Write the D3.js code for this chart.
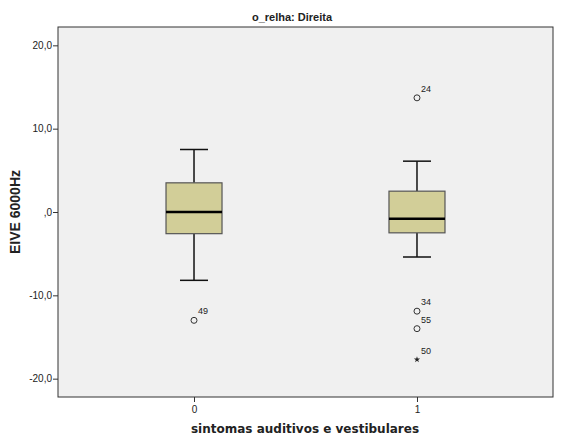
<!DOCTYPE html>
<html>
<head>
<meta charset="utf-8">
<script src="https://cdn.jsdelivr.net/npm/d3@7/dist/d3.min.js"></script>
<style>
  html, body { margin: 0; padding: 0; background: #ffffff; }
  svg { display: block; }
  text { font-family: "Liberation Sans", Arial, sans-serif; fill: #222; }
</style>
</head>
<body>
<svg id="chart" width="562" height="440"></svg>
<script>
// Groups on the x axis
const groups = [0, 1];
// Box summary per group: upper whisker, Q3, median, Q1, lower whisker
const whiskerHigh = [7.5, 6.1];
const q3 = [3.5, 2.5];
const median = [0.0, -0.8];
const q1 = [-2.6, -2.5];
const whiskerLow = [-8.2, -5.4];
// Outliers (circle) and extremes (star) with their case numbers
const outlierGroup = [0, 1, 1, 1];
const outlierValue = [-13.0, 13.7, -11.9, -14.0];
const outlierCase = ["49", "24", "34", "55"];
const extremeGroup = [1];
const extremeValue = [-17.7];
const extremeCase = ["50"];
// Axis ticks
const yTicks = [-20, -10, 0, 10, 20];
const yTickLabels = ["-20,0", "-10,0", ",0", "10,0", "20,0"];

const svg = d3.select("#chart");
const plot = { left: 58, right: 553, top: 27, bottom: 397 };

const x = d3.scaleLinear().domain([-0.61, 1.61]).range([plot.left, plot.right]);
const y = d3.scaleLinear().domain([-22.2, 22.2]).range([plot.bottom, plot.top]);

// plot background
svg.append("rect")
  .attr("x", plot.left).attr("y", plot.top)
  .attr("width", plot.right - plot.left).attr("height", plot.bottom - plot.top)
  .attr("fill", "#f0f0f0").attr("stroke", "#333").attr("stroke-width", 1);

// y axis
const yAxis = d3.axisLeft(y)
  .tickValues(yTicks)
  .tickFormat((d, i) => yTickLabels[i])
  .tickSize(5).tickPadding(1);
const gy = svg.append("g").attr("transform", `translate(${plot.left},0)`).call(yAxis);
gy.select(".domain").remove();
gy.selectAll("line").attr("stroke", "#333");
gy.selectAll("text").style("font-size", "10px").attr("fill", "#333");

// x axis
const xAxis = d3.axisBottom(x).tickValues(groups).tickFormat(d3.format("d")).tickSize(5).tickPadding(4);
const gx = svg.append("g").attr("transform", `translate(0,${plot.bottom})`).call(xAxis);
gx.select(".domain").remove();
gx.selectAll("line").attr("stroke", "#333");
gx.selectAll("text").style("font-size", "10px").attr("fill", "#333");

// boxes
const boxW = 56, capW = 28;
groups.forEach((g, i) => {
  const cx = x(g);
  const b = svg.append("g");
  b.append("line").attr("x1", cx).attr("x2", cx).attr("y1", y(whiskerHigh[i])).attr("y2", y(q3[i]))
    .attr("stroke", "#111").attr("stroke-width", 1.5);
  b.append("line").attr("x1", cx).attr("x2", cx).attr("y1", y(q1[i])).attr("y2", y(whiskerLow[i]))
    .attr("stroke", "#111").attr("stroke-width", 1.5);
  b.append("line").attr("x1", cx - capW / 2).attr("x2", cx + capW / 2)
    .attr("y1", y(whiskerHigh[i])).attr("y2", y(whiskerHigh[i]))
    .attr("stroke", "#111").attr("stroke-width", 1.5);
  b.append("line").attr("x1", cx - capW / 2).attr("x2", cx + capW / 2)
    .attr("y1", y(whiskerLow[i])).attr("y2", y(whiskerLow[i]))
    .attr("stroke", "#111").attr("stroke-width", 1.5);
  b.append("rect").attr("x", cx - boxW / 2).attr("y", y(q3[i]))
    .attr("width", boxW).attr("height", y(q1[i]) - y(q3[i]))
    .attr("fill", "#d2ce98").attr("stroke", "#555").attr("stroke-width", 1.2);
  b.append("line").attr("x1", cx - boxW / 2).attr("x2", cx + boxW / 2)
    .attr("y1", y(median[i])).attr("y2", y(median[i]))
    .attr("stroke", "#000").attr("stroke-width", 2.5);
});

// outliers
outlierValue.forEach((v, i) => {
  const cx = x(outlierGroup[i]), cy = y(v);
  svg.append("circle").attr("cx", cx).attr("cy", cy).attr("r", 3)
    .attr("fill", "none").attr("stroke", "#333").attr("stroke-width", 1);
  svg.append("text").attr("x", cx + 4).attr("y", cy - 6)
    .style("font-size", "9px").attr("fill", "#333").text(outlierCase[i]);
});

// extremes
extremeValue.forEach((v, i) => {
  const cx = x(extremeGroup[i]), cy = y(v);
  svg.append("path").attr("transform", `translate(${cx},${cy})`)
    .attr("d", d3.symbol(d3.symbolStar, 12)())
    .attr("fill", "#222");
  svg.append("text").attr("x", cx + 4).attr("y", cy - 6)
    .style("font-size", "9px").attr("fill", "#333").text(extremeCase[i]);
});

// title and axis titles
svg.append("text").attr("x", 292).attr("y", 21)
  .attr("text-anchor", "middle").style("font-size", "11px").style("font-weight", "bold")
  .text("o_relha: Direita");
svg.append("text").attr("x", 305).attr("y", 433)
  .attr("text-anchor", "middle").style("font-family", "'DejaVu Sans', sans-serif")
  .style("font-size", "12px").style("font-weight", "bold")
  .text("sintomas auditivos e vestibulares");
svg.append("text").attr("transform", `translate(20,${y(0)}) rotate(-90)`)
  .attr("text-anchor", "middle").style("font-size", "14px").style("font-weight", "bold")
  .text("EIVE 6000Hz");
</script>
</body>
</html>
